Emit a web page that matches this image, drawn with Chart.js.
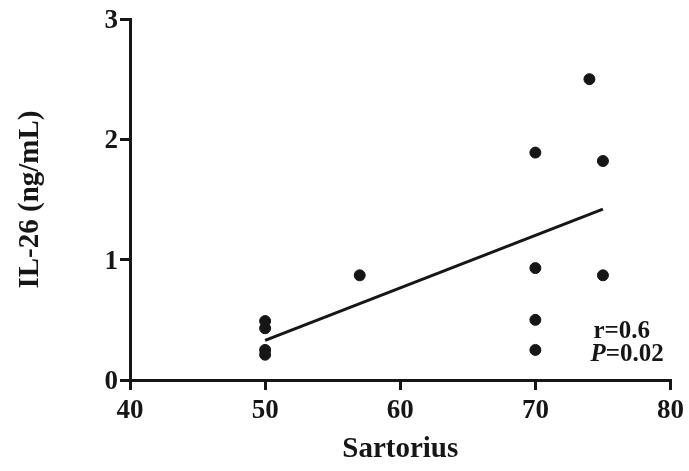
<!DOCTYPE html>
<html>
<head>
<meta charset="utf-8">
<script src="https://cdn.jsdelivr.net/npm/chart.js@4"></script>
<style>
  html, body { margin: 0; padding: 0; background: #fff; }
  #wrap { width: 689px; height: 471px; }
</style>
</head>
<body>
<div id="wrap"><canvas id="il26Chart" width="689" height="471"></canvas></div>
<script>
// values
const sartorius = [50, 50, 50, 50, 57, 70, 70, 70, 70, 74, 75, 75]
const il26 = [0.49, 0.43, 0.25, 0.21, 0.87, 1.89, 0.93, 0.50, 0.25, 2.50, 1.82, 0.87]
const fitX = [50, 75]
const fitY = [0.33, 1.42]
const xTicks = [40, 50, 60, 70, 80]
const yTicks = [0, 1, 2, 3]
const statLines = ['r=0.6', 'P=0.02']

const ink = '#161616'
const serif = "'Liberation Serif', 'Times New Roman', serif"

function toPoints(xs, ys) {
    return xs.map(function(x, i) { return { x: x, y: ys[i] } })
}

// r / P annotation in the lower right corner
const statsText = {
    id: 'statsText',
    afterDraw: function(chart) {
        const ctx = chart.ctx
        const area = chart.chartArea
        ctx.save()
        ctx.fillStyle = ink
        ctx.textBaseline = 'alphabetic'
        ctx.textAlign = 'left'
        let x = area.right - 80
        ctx.font = 'bold 25px ' + serif
        ctx.fillText(statLines[0], x + 3, area.bottom - 42)
        // italic P then the rest
        ctx.font = 'italic bold 25px ' + serif
        ctx.fillText(statLines[1].charAt(0), x, area.bottom - 19)
        let w = ctx.measureText(statLines[1].charAt(0)).width
        ctx.font = 'bold 25px ' + serif
        ctx.fillText(statLines[1].slice(1), x + w, area.bottom - 19)
        ctx.restore()
    }
}

const canvas = document.getElementById('il26Chart')
new Chart(canvas, {
    type: 'scatter',
    data: {
        datasets: [{
            label: 'IL-26',
            data: toPoints(sartorius, il26),
            backgroundColor: ink,
            borderColor: ink,
            pointRadius: 5.5,
            pointHoverRadius: 5.5
        }, {
            type: 'line',
            label: 'fit',
            data: toPoints(fitX, fitY),
            borderColor: ink,
            borderWidth: 3,
            pointRadius: 0,
            fill: false
        }]
    },
    plugins: [statsText],
    options: {
        responsive: false,
        animation: false,
        layout: { padding: { left: 0, top: 19, right: 17, bottom: 0 } },
        plugins: {
            legend: { display: false },
            tooltip: { enabled: false }
        },
        scales: {
            x: {
                type: 'linear',
                min: xTicks[0],
                max: xTicks[xTicks.length - 1],
                afterBuildTicks: function(scale) {
                    scale.ticks = xTicks.map(function(v) { return { value: v } })
                },
                afterFit: function(scale) { scale.height = 91 },
                border: { display: true, color: ink, width: 3 },
                grid: { drawOnChartArea: false, drawTicks: true, tickLength: 10, color: ink, lineWidth: 3 },
                ticks: { color: ink, padding: 5, font: { family: serif, size: 27, weight: 'bold' } },
                title: {
                    display: true,
                    text: 'Sartorius',
                    color: ink,
                    padding: { top: 0, bottom: 4 },
                    font: { family: serif, size: 29, weight: 'bold' }
                }
            },
            y: {
                type: 'linear',
                min: yTicks[0],
                max: yTicks[yTicks.length - 1],
                afterBuildTicks: function(scale) {
                    scale.ticks = yTicks.map(function(v) { return { value: v } })
                },
                afterFit: function(scale) { scale.width = 130 },
                border: { display: true, color: ink, width: 3 },
                grid: { drawOnChartArea: false, drawTicks: true, tickLength: 10, color: ink, lineWidth: 3 },
                ticks: { color: ink, padding: 2, labelOffset: 2, font: { family: serif, size: 27, weight: 'bold' } },
                title: {
                    display: true,
                    text: 'IL-26 (ng/mL)',
                    color: ink,
                    padding: { top: 13, bottom: 0 },
                    font: { family: serif, size: 29, weight: 'bold' }
                }
            }
        }
    }
})
</script>
</body>
</html>
